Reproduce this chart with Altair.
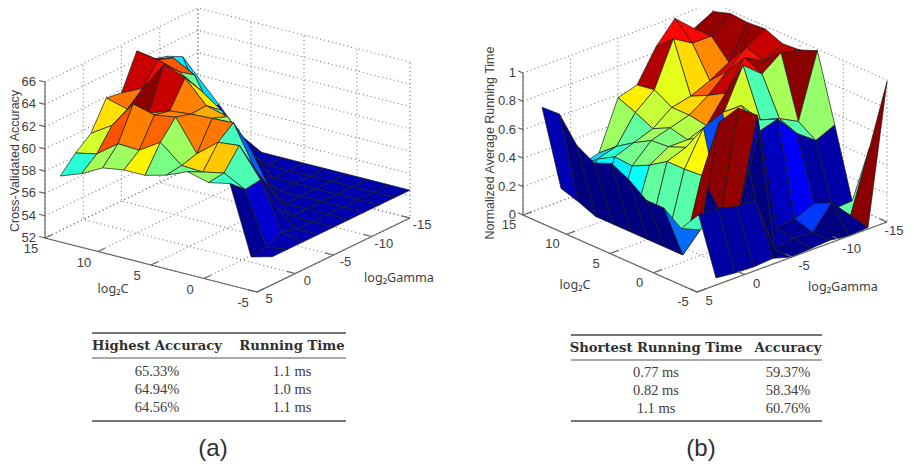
import altair as alt

# grid of the surfaces
C_VALUES = [-5, -3, -1, 1, 3, 5, 7, 9, 11, 13, 15]
G_VALUES = [3, 1, -1, -3, -5, -7, -9, -11, -13, -15]

# accuracy: one row per C value, one column per Gamma value
ACC = [
    [54.5, 54.5, 54.5, 54.5, 54.5, 54.5, 54.5, 54.5, 54.5, 54.5],
    [54.0, 54.2, 54.9, 54.5, 54.5, 54.5, 54.5, 54.5, 54.5, 54.5],
    [60.1, 58.9, 59.1, 56.0, 54.5, 54.5, 54.5, 54.5, 54.5, 54.5],
    [59.7, 59.9, 61.7, 59.0, 56.5, 54.5, 54.5, 54.5, 54.5, 54.5],
    [60.2, 59.5, 61.5, 62.6, 59.9, 56.0, 54.5, 54.5, 54.5, 54.5],
    [59.4, 59.6, 60.0, 62.5, 62.0, 59.2, 55.5, 54.5, 54.5, 54.5],
    [58.9, 61.2, 62.8, 62.4, 62.5, 61.4, 57.5, 56.0, 54.5, 54.5],
    [58.9, 60.0, 62.5, 62.2, 64.5, 62.75, 59.5, 56.5, 55.5, 54.5],
    [58.6, 60.1, 63.0, 61.5, 65.2, 63.9, 62.95, 57.5, 56.5, 55.6],
    [57.6, 58.7, 60.6, 61.4, 62.6, 64.5, 64.0, 58.6, 58.0, 57.8],
    [56.9, 58.3, 59.4, 61.9, 61.7, 64.8, 63.4, 63.0, 62.3, 59.8],
]
# normalized running time
TIME = [
    [0.05, 0.035, 0.03, 0.04, 0.0, 0.01, 0.02, 0.0, 0.01, 0.99],
    [0.44, 0.44, 0.40, 0.39, 0.0, 0.03, 0.02, 0.18, 0.04, 0.47],
    [0.29, 0.23, 0.94, 0.99, 0.89, 0.05, 0.06, 0.12, 0.03, 0.04],
    [0.38, 0.0, 0.51, 0.2, 0.2, 0.67, 0.71, 0.56, 0.46, 0.52],
    [0.38, 0.0, 0.5, 0.74, 0.8, 0.8, 0.65, 0.61, 0.54, 0.99],
    [0.47, 0.0, 0.5, 0.55, 0.58, 0.70, 0.98, 0.87, 0.97, 0.94],
    [0.53, 0.0, 0.42, 0.5, 0.5, 0.55, 0.73, 0.93, 0.86, 0.93],
    [0.48, 0.0, 0.36, 0.49, 0.53, 0.57, 0.66, 0.78, 0.9, 0.98],
    [0.55, 0.0, 0.37, 0.42, 0.47, 0.57, 0.6, 0.66, 0.74, 0.97],
    [0.716, 0.05, 0.3, 0.34, 0.53, 0.64, 0.95, 0.87, 0.87, 0.98],
    [0.71, 0.09, 0.2, 0.24, 0.58, 0.62, 0.84, 0.99, 0.87, 0.94],
]
# face colour values that differ from the corner height
TIME_COLOR_OVERRIDE = {(3, 6): 0.45, (4, 7): 0.45, (5, 5): 0.58, (3, 3): 0.63,
                       (1, 2): 0.0, (1, 3): 0.0, (2, 2): 0.98, (2, 4): 0.98,
                       (4, 6): 0.58, (4, 3): 0.6, (4, 4): 0.65,
                       (3, 2): 0.46, (4, 2): 0.46, (5, 2): 0.47, (6, 2): 0.38}
TIME_FIRST = [(1, 1), (1, 2), (1, 3)]

C_TICKS = [15, 10, 5, 0, -5]
G_TICKS = [5, 0, -5, -10, -15]
ACC_TICKS = [52, 54, 56, 58, 60, 62, 64, 66]
TIME_TICKS = [0, 0.2, 0.4, 0.6, 0.8, 1]
TIME_LABELS = ["0", "0.2", "0.4", "0.6", "0.8", "1"]

TABLE_A_HEAD = ["Highest Accuracy", "Running Time"]
TABLE_A_ROWS = [["65.33%", "1.1 ms"], ["64.94%", "1.0 ms"], ["64.56%", "1.1 ms"]]
TABLE_B_HEAD = ["Shortest Running Time", "Accuracy"]
TABLE_B_ROWS = [["0.77 ms", "59.37%"], ["0.82 ms", "58.34%"], ["1.1 ms", "60.76%"]]


def jet(v):
    v = max(0.0, min(1.0, v))
    def f(t):
        return max(0.0, min(1.0, 1.5 - abs(4 * v - t)))
    return "#%02x%02x%02x" % (round(255 * f(3)), round(255 * f(2)), round(255 * f(1)))


class Panel:
    def __init__(self, fx, fy, cx, cy, gx, gy, zk, z0):
        self.p = (fx, fy, cx, cy, gx, gy, zk, z0)

    def __call__(self, c, g, z):
        fx, fy, cx, cy, gx, gy, zk, z0 = self.p
        return [fx - 8 - (c + 5) * cx + (5 - g) * gx,
                fy - 8 - (c + 5) * cy - (5 - g) * gy - (z - z0) * zk]


PA = Panel(257, 292, 10.6, 2.7, 7.65, 3.7, 11.14, 52)
PB = Panel(697, 292, 8.7, 3.85, 9.5, 3.5, 142, 0)


def feature(coords, kind="LineString", **props):
    return {"type": "Feature", "properties": props,
            "geometry": {"type": kind, "coordinates": coords}}


def faces(P, Z, lo, hi, override=None, first=()):
    out = []
    for i in range(len(C_VALUES) - 1):
        for j in range(len(G_VALUES) - 1):
            ring = [(i, j), (i + 1, j), (i + 1, j + 1), (i, j + 1), (i, j)]
            cv = (override or {}).get((i, j + 1), Z[i][j + 1])
            out.append((99 if (i, j) in first else i + j, i,
                        feature([[P(C_VALUES[a], G_VALUES[b], Z[a][b]) for a, b in ring]],
                                "Polygon", fill=jet((cv - lo) / (hi - lo)))))
    out.sort(key=lambda t: (-t[0], -t[1]))
    return [t[2] for t in out]


def grid(P, z_ticks):
    zl, zh = z_ticks[0], z_ticks[-1]
    out = []
    for c in C_TICKS:
        out.append(feature([P(c, 5, zl), P(c, -15, zl), P(c, -15, zh)]))
    for g in G_TICKS:
        out.append(feature([P(-5, g, zl), P(15, g, zl), P(15, g, zh)]))
    for z in z_ticks:
        out.append(feature([P(15, 5, z), P(15, -15, z), P(-5, -15, z)]))
    return out


def axes(P, z_ticks):
    zl, zh = z_ticks[0], z_ticks[-1]
    out = [feature([P(15, 5, zh), P(15, 5, zl), P(-5, 5, zl), P(-5, -15, zl)])]
    for c in C_TICKS:
        out.append(feature([P(c, 5, zl), P(c, 4.1, zl)]))
    for g in G_TICKS:
        out.append(feature([P(-5, g, zl), P(-4.2, g, zl)]))
    for z in z_ticks:
        out.append(feature([P(15, 5, z), P(15.55, 5, z)]))
    return out


def shapes(feats, **mark):
    return alt.Chart(alt.Data(values=feats)).mark_geoshape(**mark).project(
        type="identity", scale=1, translate=[0, 0])


def texts(rows, **mark):
    data = alt.Data(values=[{"t": t, "x": x - 8, "y": y - 8} for t, x, y in rows])
    return alt.Chart(data).mark_text(**mark).encode(
        x=alt.X("x:Q", scale=None, axis=None),
        y=alt.Y("y:Q", scale=None, axis=None),
        text="t:N")


def panel_labels(P, z_ticks, z_labels, off_c, off_g, z_x):
    zl = z_ticks[0]
    rows = []
    for c in C_TICKS:
        a = P(c, 5, zl)
        rows.append((str(c), a[0] + 8 + off_c[0], a[1] + 8 + off_c[1]))
    for g in G_TICKS:
        a = P(-5, g, zl)
        # the last label stays inside the 898px drawing
        rows.append((str(g), min(a[0] + 8 + off_g[0], 894), a[1] + 8 + off_g[1]))
    right = [(lab, z_x, P(15, 5, z)[1] + 8) for z, lab in zip(z_ticks, z_labels)]
    style = dict(font="Liberation Sans", fontSize=13, color="#404040")
    return [texts(rows, align="center", baseline="middle", **style),
            texts(right, align="right", baseline="middle", **style)]


def table(head, rows, xs, y_head, y_rows, x0, x1, y_top, y_mid, y_bot):
    lines_thick = [feature([[x0 - 8, y - 8], [x1 - 8, y - 8]]) for y in (y_top, y_bot)]
    lines_thin = [feature([[x0 - 8, y_mid - 8], [x1 - 8, y_mid - 8]])]
    head_rows = [(h, x, y_head) for h, x in zip(head, xs)]
    body = [(v, x, y) for row, y in zip(rows, y_rows) for v, x in zip(row, xs)]
    return [
        shapes(lines_thick, filled=False, stroke="#444444", strokeWidth=1.6),
        shapes(lines_thin, filled=False, stroke="#555555", strokeWidth=1.1),
        texts(head_rows, font="DejaVu Serif", fontSize=13.2, fontWeight="bold",
              color="#303030", align="center", baseline="middle"),
        texts(body, font="Liberation Serif", fontSize=14.5, color="#404040",
              align="center", baseline="middle"),
    ]


grid_style = dict(filled=False, stroke="#808080", strokeWidth=1.2, strokeDash=[1, 3])
axis_style = dict(filled=False, stroke="#666666", strokeWidth=1.2)
face_style = dict(stroke="#1c1c1c", strokeWidth=0.7)


def surf(feats):
    return shapes(feats, **face_style).encode(
        color=alt.Color("properties.fill:N", scale=None))


layers = [
    shapes(grid(PA, ACC_TICKS), **grid_style),
    shapes(grid(PB, TIME_TICKS), **grid_style),
    surf(faces(PA, ACC, 54.0, 65.33)),
    surf(faces(PB, TIME, 0.0, 1.0, TIME_COLOR_OVERRIDE, TIME_FIRST)),
    shapes(axes(PA, ACC_TICKS), **axis_style),
    shapes(axes(PB, TIME_TICKS), **axis_style),
]
layers += panel_labels(PA, ACC_TICKS, [str(v) for v in ACC_TICKS], (-14, 11), (12, 7), 36)
layers += panel_labels(PB, TIME_TICKS, TIME_LABELS, (-14, 10), (12, 9), 516)

title_style = dict(font="Liberation Sans", fontSize=12.5, color="#404040", align="center",
                   baseline="middle", angle=270)
layers += [
    texts([("Cross-Validated Accuracy", 15, 161)], **title_style),
    texts([("Normalized Average Running Time", 490, 143)], **title_style),
    texts([("log₂C", 113, 289), ("log₂Gamma", 399, 278),
           ("log₂C", 575, 285), ("log₂Gamma", 843, 287)],
          font="Noto Sans", fontSize=12.6, color="#404040", align="center", baseline="middle"),
    texts([("(a)", 213, 449), ("(b)", 701, 449)], font="Liberation Sans", fontSize=24,
          color="#303030", align="center", baseline="middle"),
]
layers += table(TABLE_A_HEAD, TABLE_A_ROWS, [157, 292], 346, [372, 390, 408], 92, 346, 333, 358, 421)
layers += table(TABLE_B_HEAD, TABLE_B_ROWS, [656, 788], 348, [373, 391, 409], 571, 822, 335, 360, 421)

chart = alt.layer(*layers).properties(
    width=898, height=453, padding=0,
    autosize=alt.AutoSizeParams(type="none"),
).configure_view(stroke=None)

chart.save("out.html", embed_options={"renderer": "svg", "actions": False})
